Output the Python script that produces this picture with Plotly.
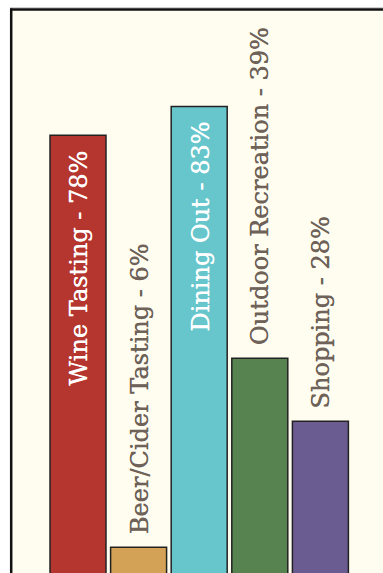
import plotly.graph_objects as go

categories = ["Wine Tasting", "Beer/Cider Tasting", "Dining Out", "Outdoor Recreation", "Shopping"]
values = [78, 6, 83, 39, 28]
colors = ["#B5352F", "#D4A256", "#67C6CB", "#56834F", "#6A5B91"]

W, H = 383, 573
ML, MT = 12, 11

fig = go.Figure()
fig.add_trace(go.Bar(
    x=categories, y=values,
    marker=dict(color=colors, line=dict(color="#222222", width=1.5)),
    hoverinfo="skip",
))

for c, v in zip(categories, values):
    inside = v > 50
    col = "#FFFFFF" if inside else "#6E6259"
    fig.add_annotation(
        x=c, y=v, xref="x", yref="y",
        text=f"{c} - {v}%",
        textangle=-90,
        showarrow=False,
        yanchor="top" if inside else "bottom",
        yshift=-13 if inside else 11,
        xshift=1,
        font=dict(family="DejaVu Serif", size=24, color=col,
                  shadow=f"0.5px 0px 0px {col}"),
    )

# frame
pw, ph = W - ML, H - MT
def px(x):
    return (x - ML) / pw
def py(y):
    return 1 - (y - MT) / ph
fig.add_shape(type="line", xref="paper", yref="paper", x0=px(10), x1=px(400), y0=py(7.8), y1=py(7.8),
              line=dict(color="#BBBBBB", width=1))
fig.add_shape(type="line", xref="paper", yref="paper", x0=px(10), x1=px(400), y0=py(9.6), y1=py(9.6),
              line=dict(color="#111111", width=2.5))
fig.add_shape(type="line", xref="paper", yref="paper", x0=px(11.2), x1=px(11.2), y0=py(8.5), y1=py(600),
              line=dict(color="#111111", width=2.5))

fig.update_layout(
    width=W, height=H,
    margin=dict(l=ML, r=0, t=MT, b=0),
    paper_bgcolor="#FFFFFF",
    plot_bgcolor="#FFFDF0",
    bargap=0.076,
    showlegend=False,
    xaxis=dict(range=[-1.089, 5.033], showticklabels=False, showgrid=False, zeroline=False, fixedrange=True),
    yaxis=dict(range=[1.49, 99.7], showticklabels=False, showgrid=False, zeroline=False, fixedrange=True),
)

fig.write_html("out.html", config={"displayModeBar": False})
